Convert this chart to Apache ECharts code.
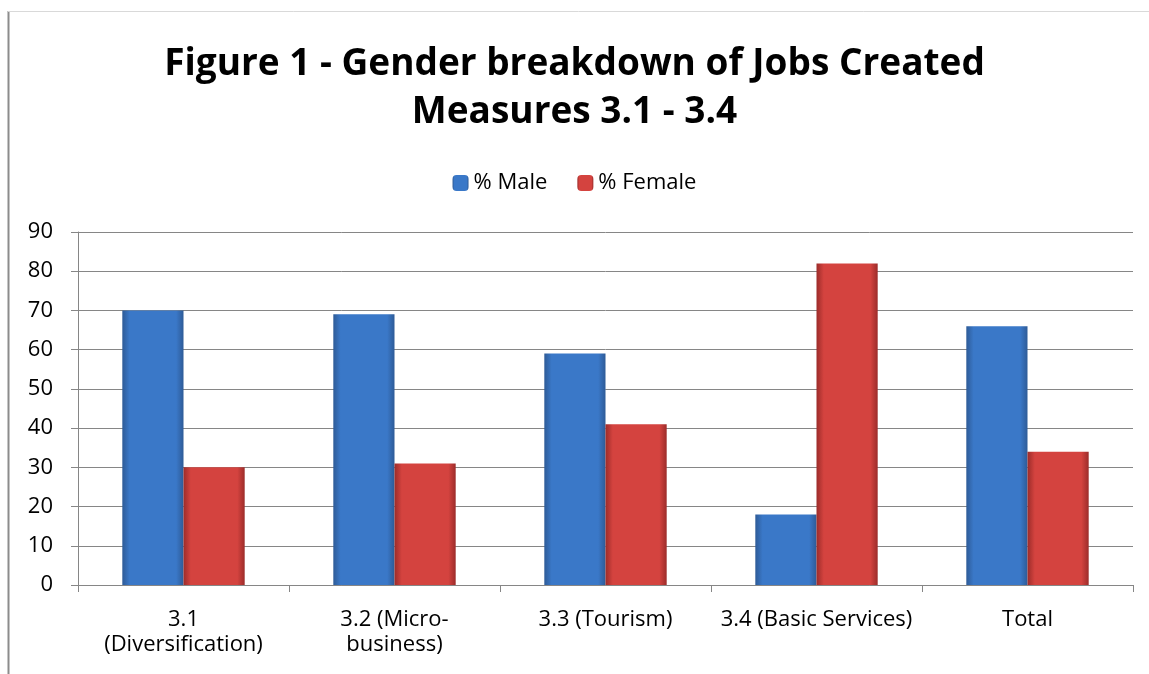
<!DOCTYPE html>
<html>
<head>
<meta charset="utf-8">
<script src="https://cdn.jsdelivr.net/npm/echarts@6/dist/echarts.min.js"></script>
<style>
  html, body { margin: 0; padding: 0; background: #fff; }
  #chart { width: 1149px; height: 674px; }
</style>
</head>
<body>
<div id="chart"></div>
<script>
// Jobs created by measure, split by gender (percent)
const categories = ['3.1\n(Diversification)', '3.2 (Micro-\nbusiness)', '3.3 (Tourism)', '3.4 (Basic Services)', 'Total'];
const maleShare = [70, 69, 59, 18, 66];
const femaleShare = [30, 31, 41, 82, 34];
const yTicks = { min: 0, max: 90, interval: 10 };

const FONT = '"Open Sans", "Liberation Sans", sans-serif';

function barFill(edge, mid) {
  return new echarts.graphic.LinearGradient(0, 0, 1, 0, [
    { offset: 0, color: edge },
    { offset: 0.12, color: mid },
    { offset: 0.5, color: mid },
    { offset: 0.88, color: mid },
    { offset: 1, color: edge }
  ]);
}

const chart = echarts.init(document.getElementById('chart'));
chart.setOption({
  backgroundColor: '#fff',
  animation: false,
  title: {
    text: 'Figure 1 - Gender breakdown of Jobs Created\nMeasures 3.1 - 3.4',
    left: 'center',
    top: 35,
    textStyle: { fontFamily: FONT, fontWeight: 'bold', fontSize: 37, lineHeight: 48, color: '#000' }
  },
  legend: {
    top: 167,
    left: 'center',
    itemWidth: 16,
    itemHeight: 16,
    itemGap: 30,
    textStyle: { fontFamily: FONT, fontSize: 22, color: '#000' },
    data: ['% Male', '% Female']
  },
  grid: { left: 78, right: 16, top: 232, bottom: 89, containLabel: false },
  xAxis: {
    type: 'category',
    data: categories,
    axisLine: { lineStyle: { color: '#868686', width: 1 } },
    axisTick: { show: true, alignWithLabel: false, length: 7, lineStyle: { color: '#868686' } },
    axisLabel: { fontFamily: FONT, fontSize: 22, color: '#000', lineHeight: 25, margin: 22, interval: 0 }
  },
  yAxis: {
    type: 'value',
    min: yTicks.min,
    max: yTicks.max,
    interval: yTicks.interval,
    axisLine: { show: true, lineStyle: { color: '#868686', width: 1 } },
    axisTick: { show: true, length: 7, lineStyle: { color: '#868686' } },
    axisLabel: { fontFamily: FONT, fontSize: 22, color: '#000', margin: 25 },
    splitLine: { lineStyle: { color: '#868686', width: 1 } }
  },
  series: [
    {
      name: '% Male',
      type: 'bar',
      data: maleShare,
      barGap: '0%',
      barCategoryGap: '42%',
      itemStyle: { color: barFill('#2e5b97', '#3a78c8') }
    },
    {
      name: '% Female',
      type: 'bar',
      data: femaleShare,
      itemStyle: { color: barFill('#9c2c2a', '#d4433f') }
    }
  ],
  color: ['#3a78c8', '#d4433f'],
  graphic: [
    { type: 'line', shape: { x1: 8.5, y1: 11, x2: 8.5, y2: 674 }, style: { stroke: '#8c8c8c', lineWidth: 2 } },
    { type: 'line', shape: { x1: 8, y1: 11.5, x2: 1149, y2: 11.5 }, style: { stroke: '#d9d9d9', lineWidth: 1 } }
  ]
});
</script>
</body>
</html>
